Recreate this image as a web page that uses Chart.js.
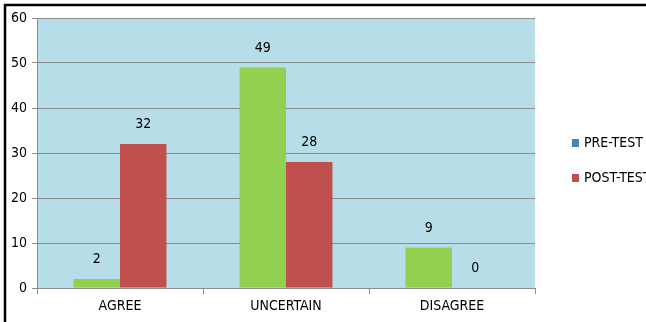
<!DOCTYPE html>
<html lang="en">
<head>
    <meta charset="utf-8">
    <title>Pre-test / Post-test</title>
    <script src="https://cdn.jsdelivr.net/npm/chart.js"></script>
    <style>
        html, body { margin: 0; padding: 0; background: #fff; }
        #wrap { position: relative; width: 646px; height: 322px; }
    </style>
</head>
<body>
<div id="wrap"><canvas id="myChart" width="646" height="322"></canvas></div>
<script>
    // data
    const categories = ['AGREE', 'UNCERTAIN', 'DISAGREE'];
    const preTest = [2, 49, 9];
    const postTest = [32, 28, 0];
    const seriesNames = ['PRE-TEST', 'POST-TEST'];
    const yTicks = [0, 10, 20, 30, 40, 50, 60];

    const FONT = '"DejaVu Sans Condensed", "Liberation Sans Narrow", sans-serif';

    // plot background + outer frame
    const backdrop = {
        id: 'backdrop',
        beforeDraw(chart) {
            const { ctx, chartArea: a } = chart;
            ctx.save();
            ctx.fillStyle = '#fff';
            ctx.fillRect(0, 0, chart.width, chart.height);
            ctx.fillStyle = '#b7dee8';
            ctx.fillRect(a.left, a.top, a.right - a.left, a.bottom - a.top);
            ctx.restore();
        },
        afterDraw(chart) {
            const ctx = chart.ctx;
            ctx.save();
            ctx.strokeStyle = '#000';
            ctx.lineWidth = 2.5;
            ctx.strokeRect(5, 5, 700, 400);
            ctx.restore();
        }
    };

    // value labels over the bars
    const valueLabels = {
        id: 'valueLabels',
        afterDatasetsDraw(chart) {
            const ctx = chart.ctx;
            ctx.save();
            ctx.font = '14px ' + FONT;
            ctx.fillStyle = '#000';
            ctx.textAlign = 'center';
            ctx.textBaseline = 'middle';
            chart.data.datasets.forEach((ds, i) => {
                chart.getDatasetMeta(i).data.forEach((bar, j) => {
                    ctx.fillText(String(ds.data[j]), bar.x, bar.y - 19.5);
                });
            });
            ctx.restore();
        }
    };

    // legend on the right (PRE-TEST key is blue in the original)
    const sideLegend = {
        id: 'sideLegend',
        afterDraw(chart) {
            const ctx = chart.ctx;
            const keys = ['#4f81bd', '#c0504d'];
            ctx.save();
            ctx.font = '14px ' + FONT;
            ctx.textBaseline = 'middle';
            seriesNames.forEach((name, i) => {
                const y = 143 + i * 35;
                ctx.fillStyle = keys[i];
                ctx.fillRect(572, y - 4, 7, 8);
                ctx.fillStyle = '#000';
                ctx.fillText(name, 584, y);
            });
            ctx.restore();
        }
    };

    new Chart(document.getElementById('myChart'), {
        type: 'bar',
        data: {
            labels: categories,
            datasets: [
                { label: seriesNames[0], data: preTest, backgroundColor: '#92d050' },
                { label: seriesNames[1], data: postTest, backgroundColor: '#c0504d' }
            ]
        },
        options: {
            responsive: false,
            animation: false,
            devicePixelRatio: 1,
            layout: { padding: { top: 18, right: 111, left: 0, bottom: 0 } },
            datasets: { bar: { categoryPercentage: 0.56, barPercentage: 1.0 } },
            plugins: {
                legend: { display: false },
                tooltip: { enabled: false }
            },
            scales: {
                x: {
                    grid: { offset: true, drawOnChartArea: false, tickLength: 6, color: '#8c8c8c' },
                    border: { color: '#8c8c8c' },
                    ticks: { color: '#000', font: { family: FONT, size: 14 }, padding: 4, maxRotation: 0 },
                    afterFit(scale) { scale.height = 34; }
                },
                y: {
                    min: 0,
                    max: 60,
                    afterBuildTicks(scale) { scale.ticks = yTicks.map(v => ({ value: v })); },
                    grid: { color: '#8c8c8c', tickLength: 5 },
                    border: { color: '#8c8c8c' },
                    ticks: { color: '#000', font: { family: FONT, size: 14 }, padding: 5 },
                    afterFit(scale) { scale.width = 37; }
                }
            }
        },
        plugins: [backdrop, valueLabels, sideLegend]
    });
</script>
</body>
</html>
